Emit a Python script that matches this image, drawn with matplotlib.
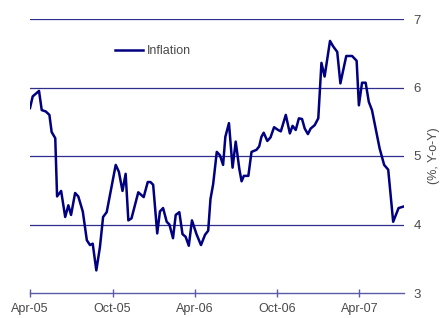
import matplotlib
matplotlib.use('Agg')
import matplotlib.pyplot as plt
import numpy as np

plt.rcParams['font.family'] = ['Liberation Sans', 'DejaVu Sans']

# weekly inflation readings (% y-o-y)
dates = ['2005-04-01', '2005-04-07', '2005-04-21', '2005-04-27', '2005-05-06', '2005-05-14',
         '2005-05-19', '2005-05-27', '2005-05-31', '2005-06-09', '2005-06-18', '2005-06-25',
         '2005-07-01', '2005-07-10', '2005-07-17', '2005-07-27', '2005-08-05', '2005-08-12',
         '2005-08-18', '2005-08-26', '2005-09-03', '2005-09-10', '2005-09-18', '2005-10-08',
         '2005-10-15', '2005-10-23', '2005-10-30', '2005-11-05', '2005-11-12', '2005-11-27',
         '2005-12-09', '2005-12-18', '2005-12-24', '2005-12-30', '2006-01-08', '2006-01-14',
         '2006-01-21', '2006-01-29', '2006-02-04', '2006-02-12', '2006-02-18', '2006-02-26',
         '2006-03-05', '2006-03-12', '2006-03-19', '2006-03-26', '2006-04-05', '2006-04-15',
         '2006-04-24', '2006-05-01', '2006-05-06', '2006-05-12', '2006-05-20', '2006-05-27',
         '2006-06-03', '2006-06-08', '2006-06-16', '2006-06-24', '2006-07-01', '2006-07-09',
         '2006-07-14', '2006-07-19', '2006-07-29', '2006-08-05', '2006-08-16', '2006-08-22',
         '2006-08-27', '2006-09-01', '2006-09-09', '2006-09-16', '2006-09-24', '2006-10-03',
         '2006-10-09', '2006-10-20', '2006-10-29', '2006-11-04', '2006-11-11', '2006-11-18',
         '2006-11-25', '2006-12-01', '2006-12-08', '2006-12-14', '2006-12-23', '2006-12-31',
         '2007-01-07', '2007-01-14', '2007-01-26', '2007-02-02', '2007-02-11', '2007-02-18',
         '2007-03-03', '2007-03-16', '2007-03-26', '2007-03-31', '2007-04-07', '2007-04-15',
         '2007-04-22', '2007-04-29', '2007-05-16', '2007-05-26', '2007-06-04', '2007-06-15',
         '2007-06-27', '2007-07-07']

inflation = [5.70, 5.87, 5.95, 5.67, 5.65, 5.60,
             5.35, 5.26, 4.41, 4.49, 4.11, 4.28,
             4.14, 4.46, 4.41, 4.19, 3.77, 3.70,
             3.72, 3.33, 3.67, 4.11, 4.18, 4.87,
             4.77, 4.49, 4.74, 4.06, 4.09, 4.47,
             4.40, 4.62, 4.62, 4.58, 3.87, 4.19,
             4.24, 4.04, 4.00, 3.80, 4.14, 4.18,
             3.86, 3.82, 3.69, 4.06, 3.86, 3.70,
             3.85, 3.91, 4.37, 4.59, 5.06, 5.01,
             4.87, 5.28, 5.48, 4.83, 5.21, 4.81,
             4.63, 4.71, 4.71, 5.06, 5.09, 5.14,
             5.28, 5.34, 5.22, 5.27, 5.42, 5.38,
             5.36, 5.60, 5.33, 5.44, 5.38, 5.55,
             5.54, 5.40, 5.32, 5.40, 5.45, 5.55,
             6.36, 6.16, 6.68, 6.60, 6.52, 6.06,
             6.46, 6.46, 6.39, 5.74, 6.07, 6.07,
             5.79, 5.67, 5.11, 4.87, 4.80, 4.04,
             4.24, 4.26]

tickDates = ['2005-04-01', '2005-10-01', '2006-04-01', '2006-10-01', '2007-04-01']
tickLabels = ['Apr-05', 'Oct-05', 'Apr-06', 'Oct-06', 'Apr-07']
yTicks = [3, 4, 5, 6, 7]

x = np.array(dates, dtype='datetime64[D]')
xt = np.array(tickDates, dtype='datetime64[D]')

fig = plt.figure(figsize=(4.44, 3.18), dpi=100)
ax = fig.add_axes([30/444, 1-293/318, 374/444, 274/318])

gridColor = '#2e2e8c'
textColor = '#4a4a4a'

for v in yTicks[1:]:
    ax.axhline(v, color=gridColor, lw=0.9, zorder=1)

ax.plot(x, inflation, color='#000080', lw=1.8, label='Inflation', zorder=3)

ax.set_ylim(3, 7)
ax.set_xlim(np.datetime64('2005-04-01'), np.datetime64('2007-07-09'))

for s in ['top', 'left', 'right']:
    ax.spines[s].set_visible(False)
ax.spines['bottom'].set_color('#5a5aa8')
ax.spines['bottom'].set_linewidth(1.0)

ax.set_xticks(xt)
ax.set_xticklabels(tickLabels)
ax.tick_params(axis='x', direction='inout', length=6, width=1.0, color='#5a5aa8',
               labelsize=9, labelcolor=textColor, pad=4)

ax.yaxis.tick_right()
ax.set_yticks(yTicks)
ax.set_yticklabels([str(v) for v in yTicks])
ax.tick_params(axis='y', length=0, labelsize=9.5, labelcolor=textColor, pad=7)
ax.yaxis.set_label_position('right')
ax.set_ylabel('(%, Y-o-Y)', fontsize=9, color=textColor, labelpad=5)

ax.legend(loc='center left', bbox_to_anchor=(0.228, 0.883), frameon=False,
          borderpad=0, borderaxespad=0, handlelength=2.25, handletextpad=0.25,
          fontsize=9, labelcolor=textColor)

fig.savefig('out.png', dpi=100)
